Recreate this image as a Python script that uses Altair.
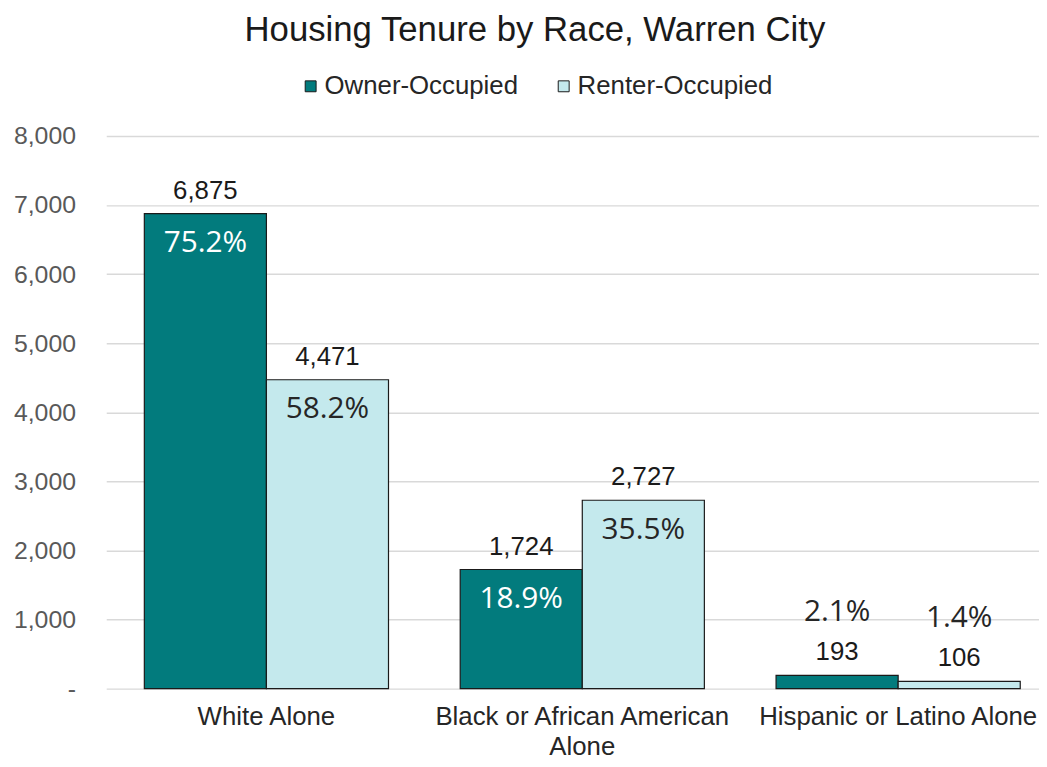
import altair as alt
import pandas as pd

races = ["White Alone", "Black or African American Alone", "Hispanic or Latino Alone"]
tenures = ["Owner-Occupied", "Renter-Occupied"]
owner_values = [6875, 1724, 193]
renter_values = [4471, 2727, 106]
owner_pct = ["75.2%", "18.9%", "2.1%"]
renter_pct = ["58.2%", "35.5%", "1.4%"]

rows = []
for i, r in enumerate(races):
    rows.append({"race": r, "tenure": tenures[0], "value": owner_values[i], "pct": owner_pct[i]})
    rows.append({"race": r, "tenure": tenures[1], "value": renter_values[i], "pct": renter_pct[i]})
df = pd.DataFrame(rows)

x_enc = alt.X(
    "race:N", sort=races, title=None,
    scale=alt.Scale(paddingInner=0.227, paddingOuter=0.09, align=0.67),
    axis=alt.Axis(
        labelAngle=0, ticks=False, domain=False, grid=False,
        labelFont="Liberation Sans", labelFontSize=26, labelColor="#262626",
        labelPadding=15, labelLineHeight=30, labelLimit=400,
        labelExpr="datum.label == 'Black or African American Alone' ? ['Black or African American', 'Alone'] : datum.label",
    ),
)
xo_enc = alt.XOffset("tenure:N", sort=tenures, scale=alt.Scale(paddingInner=0, paddingOuter=0))
y_enc = alt.Y(
    "value:Q", title=None,
    scale=alt.Scale(domain=[0, 8000], nice=False),
    axis=alt.Axis(
        values=[0, 1000, 2000, 3000, 4000, 5000, 6000, 7000, 8000],
        ticks=False, domain=False, gridColor="#D9D9D9", gridWidth=1.5,
        labelFont="Liberation Sans", labelFontSize=25, labelColor="#595959",
        labelPadding=31,
        labelExpr="datum.value == 0 ? '-' : format(datum.value, ',')",
    ),
)

base = alt.Chart(df)

bars = base.mark_bar(stroke="#1a1a1a", strokeWidth=1.2).encode(
    x=x_enc, xOffset=xo_enc, y=y_enc,
    color=alt.Color(
        "tenure:N", sort=tenures,
        scale=alt.Scale(domain=tenures, range=["#027B7D", "#C4E9ED"]),
        legend=alt.Legend(
            title=None, orient="none", direction="horizontal",
            legendX=193, legendY=-63,
            symbolType="square", symbolSize=121, symbolStrokeColor="#1a1a1a",
            symbolStrokeWidth=1,
            labelFont="Liberation Sans", labelFontSize=26, labelColor="#262626",
            labelOffset=1, columnPadding=32, labelLimit=300,
        ),
    ),
)

value_labels = base.mark_text(
    baseline="bottom", dy=-10, font="Liberation Sans", fontSize=26, color="#1a1a1a"
).encode(x=x_enc, xOffset=xo_enc, y=y_enc, text=alt.Text("value:Q", format=","))

pct_inside = base.transform_filter("datum.value >= 1000").mark_text(
    baseline="middle", dy=30, font="Open Sans", fontSize=30
).encode(
    x=x_enc, xOffset=xo_enc, y=y_enc, text="pct:N",
    color=alt.condition("datum.tenure == 'Owner-Occupied'", alt.value("#ffffff"), alt.value("#262626")),
)

pct_above = base.transform_filter("datum.value < 1000").mark_text(
    baseline="middle", dy=-64, font="Open Sans", fontSize=30, color="#262626"
).encode(x=x_enc, xOffset=xo_enc, y=y_enc, text="pct:N")

chart = alt.layer(bars, value_labels, pct_inside, pct_above).properties(
    width=940, height=557,
    autosize=alt.AutoSizeParams(type="none"),
    padding={"left": 99, "top": 126, "right": 0, "bottom": 68},
    title=alt.TitleParams(
        "Housing Tenure by Race, Warren City",
        font="Liberation Sans", fontSize=35, fontWeight="normal", color="#1a1a1a",
        anchor="middle", dx=-38, offset=26,
    ),
).configure_view(stroke=None)

chart.save("out.html", embed_options={"renderer": "svg", "actions": False})
